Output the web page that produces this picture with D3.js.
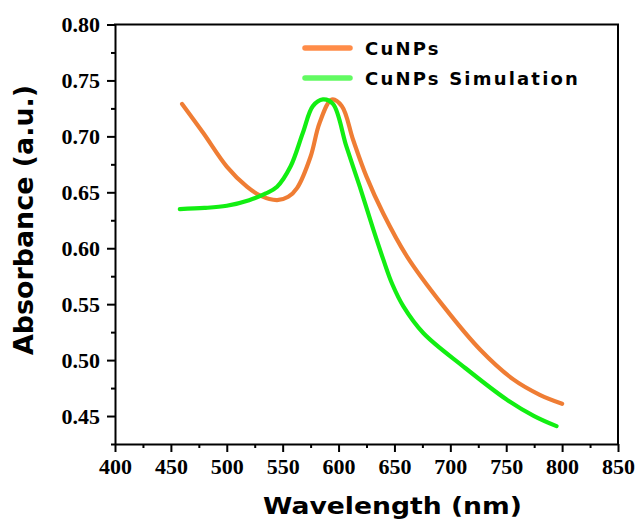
<!DOCTYPE html>
<html>
<head>
<meta charset="utf-8">
<script src="https://cdn.jsdelivr.net/npm/d3@7"></script>
<style>
  html, body { margin: 0; padding: 0; background: #fff; }
  svg { display: block; }
</style>
</head>
<body>
<svg id="chart" width="635" height="522"></svg>
<script>
// ---- data ----
const cunpsWl  = [460, 479, 500, 518, 530, 545, 555, 563, 575, 583, 594, 603, 613, 625, 640, 661, 694, 727, 756, 780, 800];
const cunpsAbs = [0.729, 0.703, 0.673, 0.655, 0.647, 0.643, 0.646, 0.654, 0.682, 0.712, 0.733, 0.727, 0.697, 0.664, 0.631, 0.593, 0.548, 0.509, 0.483, 0.469, 0.461];

const simWl  = [458, 480, 500, 520, 535, 545, 557, 568, 577, 586, 595, 607, 619, 631, 640, 648, 658, 676, 712, 750, 775, 795];
const simAbs = [0.635, 0.636, 0.638, 0.643, 0.649, 0.655, 0.673, 0.703, 0.727, 0.733, 0.729, 0.691, 0.655, 0.617, 0.590, 0.568, 0.548, 0.524, 0.494, 0.465, 0.450, 0.441];

const xTicks = [400, 450, 500, 550, 600, 650, 700, 750, 800, 850];
const xMinorTicks = [425, 475, 525, 575, 625, 675, 725, 775, 825];
const yTicks = [0.45, 0.50, 0.55, 0.60, 0.65, 0.70, 0.75, 0.80];
const yMinorTicks = [0.425, 0.475, 0.525, 0.575, 0.625, 0.675, 0.725, 0.775];

const seriesNames = ["CuNPs", "CuNPs Simulation"];
const xTitle = "Wavelength (nm)";
const yTitle = "Absorbance (a.u.)";

// ---- layout ----
const svg = d3.select("#chart");
const mLeft = 115, mRight = 618, mTop = 24.5, mBottom = 444;

const x = d3.scaleLinear().domain([400, 850]).range([mLeft, mRight]);
const y = d3.scaleLinear().domain([0.425, 0.80]).range([mBottom, mTop]);

svg.append("rect").attr("width", 635).attr("height", 522).attr("fill", "#fff");

const serif = "'Liberation Serif','Times New Roman',serif";
const sans = "'DejaVu Sans',Arial,sans-serif";

// curves
const line = d3.line().x(d => x(d[0])).y(d => y(d[1])).curve(d3.curveCatmullRom.alpha(0.5));
const orangeData = cunpsWl.map((w, i) => [w, cunpsAbs[i]]);
const greenData = simWl.map((w, i) => [w, simAbs[i]]);

svg.append("path").datum(orangeData).attr("d", line)
  .attr("fill", "none").attr("stroke", "#EF7D34").attr("stroke-width", 4.2)
  .attr("stroke-linecap", "round").attr("stroke-linejoin", "round");
svg.append("path").datum(greenData).attr("d", line)
  .attr("fill", "none").attr("stroke", "#12EE12").attr("stroke-width", 4.2)
  .attr("stroke-linecap", "round").attr("stroke-linejoin", "round");

// axes
const xAxis = svg.append("g").attr("transform", `translate(0,${mBottom})`)
  .call(d3.axisBottom(x).tickValues(xTicks).tickSize(8).tickSizeOuter(0).tickPadding(6).tickFormat(d3.format("d")));
const xMinor = svg.append("g").attr("transform", `translate(0,${mBottom})`)
  .call(d3.axisBottom(x).tickValues(xMinorTicks).tickSize(4).tickSizeOuter(0).tickFormat(""));
const yAxis = svg.append("g").attr("transform", `translate(${mLeft},0)`)
  .call(d3.axisLeft(y).tickValues(yTicks).tickSize(8).tickSizeOuter(0).tickPadding(7).tickFormat(d3.format(".2f")));
const yMinor = svg.append("g").attr("transform", `translate(${mLeft},0)`)
  .call(d3.axisLeft(y).tickValues(yMinorTicks).tickSize(4).tickSizeOuter(0).tickFormat(""));

[xAxis, xMinor, yAxis, yMinor].forEach(g => {
  g.selectAll("path").attr("stroke", "#000").attr("stroke-width", 2);
  g.selectAll("line").attr("stroke", "#000").attr("stroke-width", 2);
  g.selectAll("text").attr("fill", "#000").attr("font-family", serif)
    .attr("font-weight", "bold").attr("font-size", 22);
});
xMinor.select("path").remove();
yMinor.select("path").remove();

// top & right frame
svg.append("path")
  .attr("d", `M${mLeft},${mTop}H${mRight}V${mBottom}`)
  .attr("fill", "none").attr("stroke", "#000").attr("stroke-width", 2)
  .attr("stroke-linecap", "square");

// axis titles
svg.append("text").text(xTitle)
  .attr("x", 263).attr("y", 514)
  .attr("textLength", 259).attr("lengthAdjust", "spacingAndGlyphs")
  .attr("font-family", sans).attr("font-weight", "bold").attr("font-size", 23)
  .attr("fill", "#000");

svg.append("text").text(yTitle)
  .attr("transform", "translate(33,220) rotate(-90)")
  .attr("text-anchor", "middle")
  .attr("textLength", 270).attr("lengthAdjust", "spacingAndGlyphs")
  .attr("font-family", sans).attr("font-weight", "bold").attr("font-size", 27)
  .attr("fill", "#000");

// legend
const legendColors = ["#FF8C48", "#62FA62"];
const legendY = [48, 78];
seriesNames.forEach((name, i) => {
  svg.append("line")
    .attr("x1", 305).attr("x2", 350).attr("y1", legendY[i]).attr("y2", legendY[i])
    .attr("stroke", legendColors[i]).attr("stroke-width", 5.5).attr("stroke-linecap", "round");
  svg.append("text").text(name)
    .attr("x", 365).attr("y", legendY[i] + 7)
    .attr("font-family", sans).attr("font-weight", "bold").attr("font-size", 18)
    .attr("letter-spacing", 2.2).attr("fill", "#000");
});
</script>
</body>
</html>
